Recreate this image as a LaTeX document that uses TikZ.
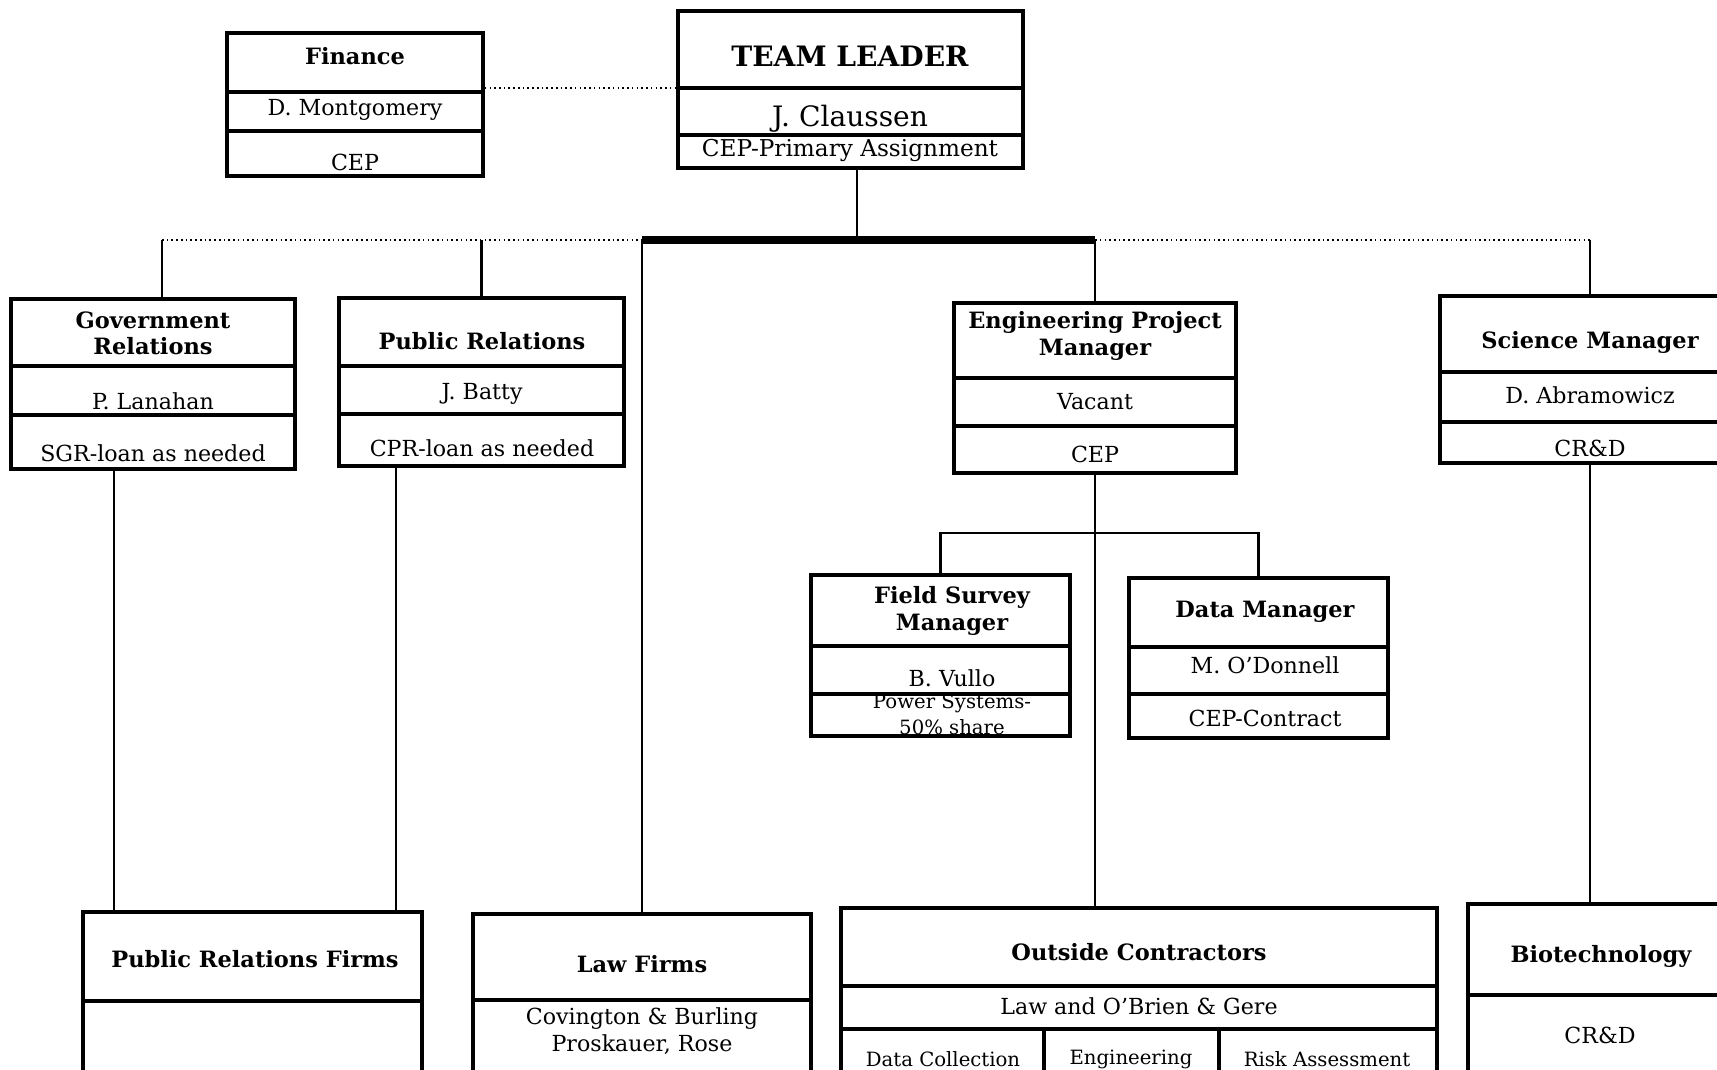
\documentclass[tikz,border=0pt]{standalone}
\usepackage{fontspec}
\setmainfont{DejaVu Serif}
\usetikzlibrary{fit}
\begin{document}
\begin{tikzpicture}[x=0.02cm,y=-0.02cm,
  frame/.style={draw, line width=2pt, inner sep=0pt},
  divider/.style={line width=1.8pt},
  conn/.style={line width=1.3pt},
  dotconn/.style={line width=1.5pt, dash pattern=on 0.9pt off 1.8pt},
  thickconn/.style={line width=4pt},
  ttl/.style={font=\fontsize{12.8}{15}\selectfont\bfseries, align=center, inner sep=0pt},
  nm/.style={font=\fontsize{12.6}{14.5}\selectfont, align=center, inner sep=0pt},
  sm/.style={font=\fontsize{11.2}{13.5}\selectfont, align=center, inner sep=0pt},
]
\useasboundingbox (0,0) rectangle (1717,1070);
\clip (0,0) rectangle (1717,1070);

% ---------- boxes ----------
\node[frame, fit={(227,33) (483,176)}] (fin) {};
\draw[divider] (227,92) -- (483,92) (227,131) -- (483,131);
\node[ttl] (tfin) at (355,56) {Finance};
\node[nm] (nfin) at (355,110) {D. Montgomery};
\node[nm] (afin) at (355,162) {CEP};

\node[frame, fit={(678,11) (1023,168)}] (tl) {};
\draw[divider] (678,88) -- (1023,88) (678,135) -- (1023,135);
\node[ttl, font=\fontsize{16}{18}\selectfont\bfseries] (ttl1) at (850,56) {TEAM LEADER};
\node[nm, font=\fontsize{16}{18}\selectfont] (ntl) at (850,119) {J. Claussen};
\node[nm, font=\fontsize{13.2}{15}\selectfont] (atl) at (850,150) {CEP-Primary Assignment};

\node[frame, fit={(11,299) (295,469)}] (gr) {};
\draw[divider] (11,366) -- (295,366) (11,415) -- (295,415);
\node[ttl] (tgr) at (153,333) {Government\\Relations};
\node[nm] (ngr) at (153,401) {P. Lanahan};
\node[nm] (agr) at (153,453) {SGR-loan as needed};

\node[frame, fit={(339,298) (624,466)}] (pr) {};
\draw[divider] (339,366) -- (624,366) (339,414) -- (624,414);
\node[ttl] (tpr) at (482,341) {Public Relations};
\node[nm] (npr) at (482,394) {J. Batty};
\node[nm] (apr) at (482,448) {CPR-loan as needed};

\node[frame, fit={(954,303) (1236,473)}] (epm) {};
\draw[divider] (954,378) -- (1236,378) (954,426) -- (1236,426);
\node[ttl] (tepm) at (1095,336) {Engineering Project\\Manager};
\node[nm] (nepm) at (1095,402) {Vacant};
\node[nm] (aepm) at (1095,454) {CEP};

\node[frame, fit={(1440,296) (1740,463)}] (sci) {};
\draw[divider] (1440,372) -- (1740,372) (1440,422) -- (1740,422);
\node[ttl] (tsci) at (1590,342) {Science Manager};
\node[nm] (nsci) at (1590,395) {D. Abramowicz};
\node[nm] (asci) at (1590,448) {CR\&D};

\node[frame, fit={(811,575) (1070,736)}] (fsm) {};
\draw[divider] (811,646) -- (1070,646) (811,694) -- (1070,694);
\node[ttl] (tfsm) at (952,611) {Field Survey\\Manager};
\node[nm] (nfsm) at (952,678) {B. Vullo};
\node[sm] (afsm) at (952,703) {Power Systems-};
\node[sm] (bfsm) at (952,727) {50\% share};

\node[frame, fit={(1129,578) (1388,738)}] (dm) {};
\draw[divider] (1129,647) -- (1388,647) (1129,694) -- (1388,694);
\node[ttl] (tdm) at (1265,612) {Data Manager};
\node[nm] (ndm) at (1265,665) {M. O'Donnell};
\node[nm] (adm) at (1265,718) {CEP-Contract};

\node[frame, fit={(83,912) (422,1090)}] (prf) {};
\draw[divider] (83,1001) -- (422,1001);
\node[ttl] (tprf) at (255,959) {Public Relations Firms};

\node[frame, fit={(473,914) (811,1090)}] (lf) {};
\draw[divider] (473,1000) -- (811,1000);
\node[ttl] (tlf) at (642,964) {Law Firms};
\node[nm, font=\fontsize{12.6}{15}\selectfont] (nlf) at (642,1031) {Covington \& Burling\\Proskauer, Rose};

\node[frame, fit={(841,908) (1437,1090)}] (oc) {};
\draw[divider] (841,986) -- (1437,986) (841,1029) -- (1437,1029);
\draw[divider] (1044,1029) -- (1044,1090) (1219,1029) -- (1219,1090);
\node[ttl] (toc) at (1139,952) {Outside Contractors};
\node[nm] (noc) at (1139,1006) {Law and O'Brien \& Gere};
\node[sm] (oc1) at (943,1059) {Data Collection};
\node[sm] (oc2) at (1131,1059) {Engineering};
\node[sm] (oc3) at (1327,1059) {Risk Assessment};

\node[frame, fit={(1468,904) (1740,1090)}] (bio) {};
\draw[divider] (1468,995) -- (1740,995);
\node[ttl] (tbio) at (1601,956) {Biotechnology};
\node[nm] (nbio) at (1600,1035) {CR\&D};

% ---------- connectors ----------
\coordinate (bus) at (857,240);
\coordinate (sb) at (1096,533);
\coordinate (tlrow) at (850,88);
\coordinate (tlx) at (857,0);
\coordinate (grx) at (162,0);
\coordinate (g1) at (114,0);
\coordinate (p1) at (396,0);

\draw[dotconn] (fin.east |- tlrow) -- (tl.west |- tlrow);
\draw[conn] (tl.south -| tlx) -- (bus);
\draw[dotconn] (grx |- bus) -- (lf.north |- bus);
\draw[thickconn] (lf.north |- bus) -- (epm.north |- bus);
\draw[dotconn] (epm.north |- bus) -- (sci.north |- bus);
\draw[conn] (grx |- bus) -- (gr.north -| grx);
\draw[conn] (pr.north |- bus) -- (pr.north);
\draw[conn] (lf.north |- bus) -- (lf.north);
\draw[conn] (epm.north |- bus) -- (epm.north);
\draw[conn] (sci.north |- bus) -- (sci.north);
\draw[conn] (gr.south -| g1) -- (prf.north -| g1);
\draw[conn] (pr.south -| p1) -- (prf.north -| p1);
\draw[conn] (epm.south) -- (epm.south |- oc.north);
\draw[conn] (fsm.north) -- (fsm.north |- sb) -- (dm.north |- sb) -- (dm.north);
\draw[conn] (sci.south) -- (sci.south |- bio.north);
\end{tikzpicture}
\end{document}
